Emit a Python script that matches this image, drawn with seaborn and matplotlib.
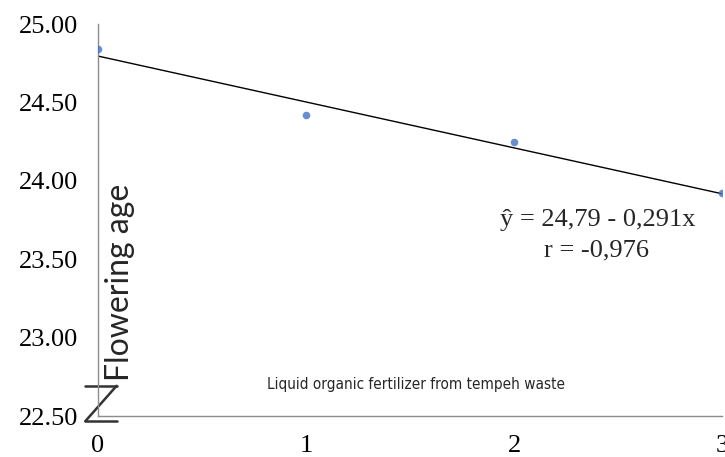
import numpy as np
import pandas as pd
import matplotlib
matplotlib.use("Agg")
import matplotlib.pyplot as plt
import seaborn as sns

# data
doses = [0, 1, 2, 3]
flowering_age = [24.84, 24.42, 24.25, 23.92]
y_ticks = [22.50, 23.00, 23.50, 24.00, 24.50, 25.00]
x_ticks = [0, 1, 2, 3]
equation = "ŷ = 24,79 - 0,291x"
r_text = "r = -0,976"

df = pd.DataFrame({"dose": doses, "age": flowering_age})

sns.set_style("white")
plt.rcParams["font.family"] = ["Liberation Serif", "DejaVu Serif"]

fig = plt.figure(figsize=(7.25, 4.57), dpi=100)
ax = fig.add_axes([0.135, 0.0897, 0.861, 0.8573])

sns.regplot(data=df, x="dose", y="age", ci=None, ax=ax,
            scatter_kws={"s": 30, "color": "#4472C4", "zorder": 3, "linewidths": 0},
            line_kws={"color": "black", "lw": 1})

ax.set_xlim(0, 3)
ax.set_ylim(22.5, 25.0)
ax.set_xticks(x_ticks)
ax.set_yticks(y_ticks)
ax.set_yticklabels([f"{v:.2f}" for v in y_ticks])
ax.set_xlabel("")
ax.set_ylabel("")

for side in ["top", "right"]:
    ax.spines[side].set_visible(False)
for side in ["left", "bottom"]:
    ax.spines[side].set_color("#8c8c8c")
    ax.spines[side].set_linewidth(1)
ax.tick_params(axis="both", direction="out", color="#8c8c8c", length=6, width=1,
               labelsize=19, colors="#8c8c8c", labelcolor="black")
ax.tick_params(axis="y", pad=8)
ax.tick_params(axis="x", pad=7.5)

# axis titles drawn inside the plot area, as in the original
ax.text(0.035, 0.34, "Flowering age", transform=ax.transAxes, rotation=90,
        ha="center", va="center", fontsize=23, family=["Lato", "DejaVu Sans"])
ax.text(0.51, 0.08, "Liquid organic fertilizer from tempeh waste",
        transform=ax.transAxes, ha="center", va="center", fontsize=11,
        family=["DejaVu Sans"], fontstretch="condensed")

# regression equation
ax.text(0.801, 0.50, equation, transform=ax.transAxes, ha="center",
        va="center", fontsize=19)
ax.text(0.798, 0.423, r_text, transform=ax.transAxes, ha="center",
        va="center", fontsize=19)

# axis break mark
zx = [-0.02, 0.03, -0.02, 0.03]
zy = [0.077, 0.077, -0.013, -0.013]
ax.plot([zx[0], zx[1]], [zy[0], zy[1]], transform=ax.transAxes, color="#333333",
        lw=1.8, clip_on=False)
ax.plot([zx[1], zx[2]], [zy[1], zy[2]], transform=ax.transAxes, color="#333333",
        lw=1.8, clip_on=False)
ax.plot([zx[2], zx[3]], [zy[2], zy[3]], transform=ax.transAxes, color="#333333",
        lw=1.8, clip_on=False)

fig.savefig("out.png", dpi=100)
